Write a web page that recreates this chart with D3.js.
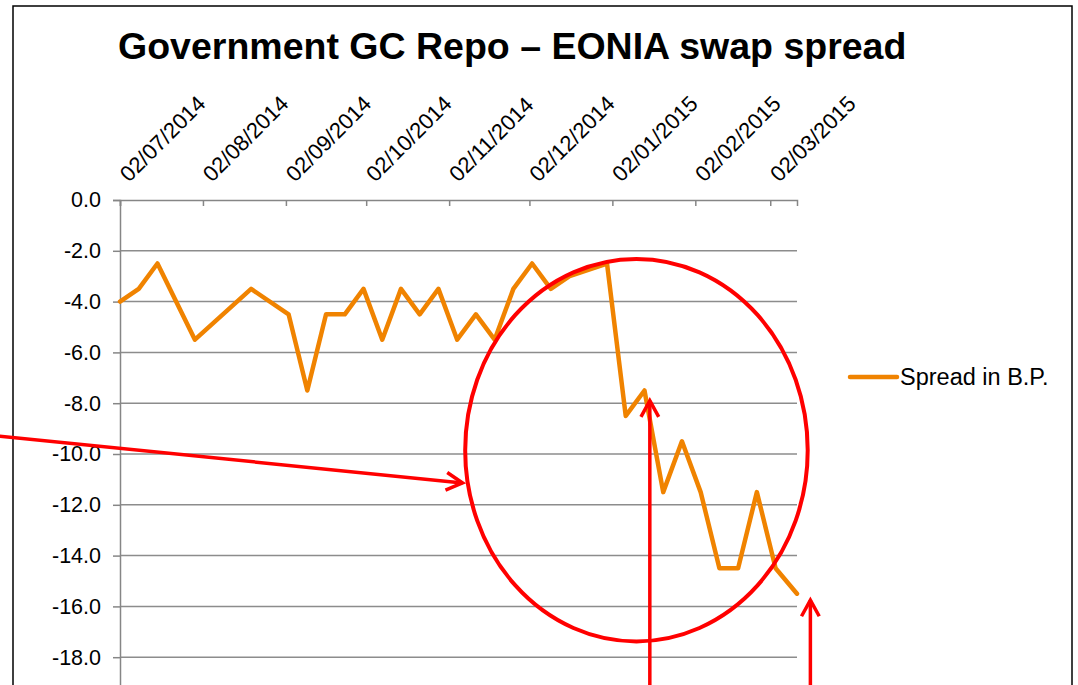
<!DOCTYPE html>
<html>
<head>
<meta charset="utf-8">
<script src="https://cdn.jsdelivr.net/npm/d3@7"></script>
<style>
  html, body { margin: 0; padding: 0; background: #fff; }
  svg { display: block; font-family: "Liberation Sans", Arial, sans-serif; }
</style>
</head>
<body>
<svg id="chart" width="1078" height="685"></svg>
<script>
// ---- data ----
const dates = ["02/07/2014","09/07/2014","16/07/2014","30/07/2014","20/08/2014","03/09/2014","10/09/2014",
  "17/09/2014","24/09/2014","01/10/2014","08/10/2014","15/10/2014","22/10/2014","29/10/2014","05/11/2014",
  "12/11/2014","19/11/2014","26/11/2014","03/12/2014","10/12/2014","17/12/2014","31/12/2014","07/01/2015",
  "14/01/2015","21/01/2015","28/01/2015","04/02/2015","11/02/2015","18/02/2015","25/02/2015","04/03/2015","12/03/2015"];
const spread = [-4.0,-3.5,-2.5,-5.5,-3.5,-4.5,-7.5,
  -4.5,-4.5,-3.5,-5.5,-3.5,-4.5,-3.5,-5.5,
  -4.5,-5.5,-3.5,-2.5,-3.5,-3.0,-2.5,-8.5,
  -7.5,-11.5,-9.5,-11.5,-14.5,-14.5,-11.5,-14.5,-15.5];
const xTickLabels = ["02/07/2014","02/08/2014","02/09/2014","02/10/2014","02/11/2014","02/12/2014","02/01/2015","02/02/2015","02/03/2015"];
const yTicks = [0,-2,-4,-6,-8,-10,-12,-14,-16,-18];
const yTickLabels = ["0.0","-2.0","-4.0","-6.0","-8.0","-10.0","-12.0","-14.0","-16.0","-18.0"];
const seriesName = "Spread in B.P.";
const title = "Government GC Repo \u2013 EONIA swap spread";
// annotations (data coordinates)
const ellipseAnn = { cx: "11/01/2015", cy: -9.85, rxDays: 64.2, ry: 7.53 };
const arrowAnns = [
  { from: ["18/05/2014", -9.3], to: ["07/11/2014", -11.14] },
  { from: ["16/01/2015", -19.4], to: ["16/01/2015", -7.9] },
  { from: ["17/03/2015", -19.4], to: ["17/03/2015", -15.75] }
];

const parse = d3.timeParse("%d/%m/%Y");
const data = dates.map((d, i) => ({ date: parse(d), value: spread[i] }));

const svg = d3.select("#chart");
const plotLeft = 120, plotRight = 797, plotTop = 200;

const x = d3.scaleTime()
  .domain([parse("02/07/2014"), parse("12/03/2015")])
  .range([plotLeft, plotRight]);
const y = d3.scaleLinear().domain([-20, 0]).range([708, plotTop]);

// outer border
svg.append("rect")
  .attr("x", 13).attr("y", 6).attr("width", 1059).attr("height", 720)
  .attr("fill", "#fff").attr("stroke", "#000").attr("stroke-width", 1.5);

// title
svg.append("text")
  .attr("x", 118).attr("y", 59)
  .attr("font-size", 37.5).attr("font-weight", "bold").attr("fill", "#000")
  .text(title);

// gridlines
svg.append("g").selectAll("line").data(yTicks.filter(t => t !== 0)).join("line")
  .attr("x1", plotLeft).attr("x2", plotRight)
  .attr("y1", d => y(d)).attr("y2", d => y(d))
  .attr("stroke", "#8c8c8c").attr("stroke-width", 1.5);

// y axis
const yAxis = d3.axisLeft(y).tickValues(yTicks)
  .tickFormat((d, i) => yTickLabels[i]).tickSize(7).tickPadding(12);
const gy = svg.append("g").attr("transform", `translate(${plotLeft},0)`).call(yAxis);
gy.select(".domain").attr("stroke", "#868686").attr("stroke-width", 1.5);
gy.selectAll(".tick line").attr("stroke", "#868686").attr("stroke-width", 1.5);
gy.selectAll(".tick text").attr("font-size", 21.5).attr("fill", "#000")
  .attr("font-family", "Liberation Sans, Arial, sans-serif");

// x axis (top, at 0)
const xTickDates = xTickLabels.map(parse);
const xAxis = d3.axisBottom(x).tickValues(xTickDates).tickSize(6).tickFormat(() => "");
const gx = svg.append("g").attr("transform", `translate(0,${y(0)})`).call(xAxis);
gx.select(".domain").attr("stroke", "#868686").attr("stroke-width", 1.5);
gx.selectAll(".tick line").attr("stroke", "#868686").attr("stroke-width", 1.5);

svg.append("g").selectAll("text").data(xTickLabels).join("text")
  .attr("transform", d => `translate(${x(parse(d)) + 9},${y(0) - 17}) rotate(-45)`)
  .attr("text-anchor", "start")
  .attr("font-size", 22).attr("fill", "#000")
  .text(d => d);

// series line
const line = d3.line().x(d => x(d.date)).y(d => y(d.value));
svg.append("path").datum(data)
  .attr("d", line)
  .attr("fill", "none").attr("stroke", "#F08300").attr("stroke-width", 4.5)
  .attr("stroke-linejoin", "round").attr("stroke-linecap", "round");

// legend
svg.append("line")
  .attr("x1", 850).attr("x2", 897).attr("y1", 377).attr("y2", 377)
  .attr("stroke", "#F08300").attr("stroke-width", 4.5).attr("stroke-linecap", "round");
svg.append("text").attr("x", 900).attr("y", 385)
  .attr("font-size", 23.5).attr("fill", "#000").text(seriesName);

// annotations
const red = "#FF0000";
const ecx = x(parse(ellipseAnn.cx));
const ecy = y(ellipseAnn.cy);
const erx = x(d3.timeDay.offset(parse("02/07/2014"), ellipseAnn.rxDays)) - x(parse("02/07/2014"));
const ery = y(-20 + ellipseAnn.ry) - y(-20);
svg.append("ellipse")
  .attr("cx", ecx).attr("cy", ecy).attr("rx", erx).attr("ry", Math.abs(ery))
  .attr("fill", "none").attr("stroke", red).attr("stroke-width", 4);

const ag = svg.append("g");
arrowAnns.forEach(a => {
  const x1 = x(parse(a.from[0])), y1 = y(a.from[1]);
  const x2 = x(parse(a.to[0])), y2 = y(a.to[1]);
  ag.append("line").attr("x1", x1).attr("y1", y1).attr("x2", x2).attr("y2", y2)
    .attr("stroke", red).attr("stroke-width", 3.5);
  const ang = Math.atan2(y2 - y1, x2 - x1);
  const L = 18.5, spr = 0.5;
  const p1 = [x2 - L * Math.cos(ang - spr), y2 - L * Math.sin(ang - spr)];
  const p2 = [x2 - L * Math.cos(ang + spr), y2 - L * Math.sin(ang + spr)];
  ag.append("path")
    .attr("d", `M${p1[0]},${p1[1]}L${x2},${y2}L${p2[0]},${p2[1]}`)
    .attr("fill", "none").attr("stroke", red).attr("stroke-width", 3.5)
    .attr("stroke-linejoin", "miter");
});
</script>
</body>
</html>
